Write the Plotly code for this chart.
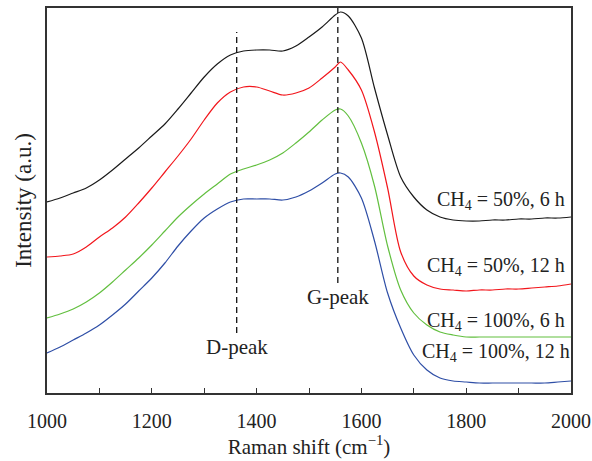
import plotly.graph_objects as go

# Raman shift (cm^-1)
shift = [1000, 1025, 1050, 1075, 1100, 1125, 1150, 1175, 1200, 1225, 1250, 1275,
         1300, 1325, 1350, 1375, 1400, 1425, 1450, 1475, 1500, 1525, 1550, 1560,
         1575, 1600, 1625, 1650, 1675, 1700, 1725, 1750, 1775, 1800, 1825, 1850,
         1875, 1900, 1925, 1950, 1975, 2000]

# Intensities (a.u., offset-stacked as in the figure)
ch4_50_6h = [191, 195, 200, 205, 213, 223, 234, 245, 257, 269, 284, 300,
             316, 329, 338, 342, 343, 343, 342, 347, 356, 366, 378, 381,
             377, 355, 305, 258, 216, 196, 183, 176, 173, 172, 172, 173,
             173, 174, 174, 175, 175, 176]
ch4_50_12h = [136, 137, 139, 146, 156, 165, 176, 190, 205, 221, 237, 254,
              273, 290, 301, 306, 306, 302, 298, 300, 305, 315, 326, 331,
              323, 303, 261, 205, 141, 117, 108, 104, 103, 102, 103, 103,
              104, 104, 105, 106, 107, 109]
ch4_100_6h = [75, 79, 84, 91, 100, 111, 123, 135, 148, 162, 176, 188,
              199, 209, 219, 224, 228, 233, 240, 250, 261, 273, 283, 284,
              277, 250, 207, 147, 103, 80, 68, 61, 58, 56, 56, 56,
              56, 56, 56, 56, 56, 56]
ch4_100_12h = [40, 46, 53, 60, 68, 78, 89, 102, 115, 130, 147, 162,
               175, 184, 191, 194, 194, 194, 193, 196, 202, 210, 219, 220,
               216, 195, 152, 100, 65, 38, 23, 15, 12, 11, 10, 10,
               10, 10, 10, 10, 11, 12]

series_names = ["CH<sub>4</sub> = 50%, 6 h", "CH<sub>4</sub> = 50%, 12 h",
                "CH<sub>4</sub> = 100%, 6 h", "CH<sub>4</sub> = 100%, 12 h"]
label_y = [193, 127, 72, 41]
label_shift = [-4, -4, -4, 1]
colors = ["#1a1a1a", "#f2161c", "#62bf3f", "#2e4ea6"]

d_peak = 1362
g_peak = 1555
d_line = [60, 361]
g_line = [110, 385]
tick_vals = [1000, 1200, 1400, 1600, 1800, 2000]

font_family = "Liberation Serif"
txt = "#222"

fig = go.Figure()
for ys, name, c in zip([ch4_50_6h, ch4_50_12h, ch4_100_6h, ch4_100_12h], series_names, colors):
    fig.add_trace(go.Scatter(x=shift, y=ys, mode="lines", name=name,
                             line=dict(color=c, width=1.2, shape="spline", smoothing=0.8),
                             showlegend=False))

# dashed peak markers
fig.add_trace(go.Scatter(x=[d_peak, d_peak], y=d_line, mode="lines",
                         line=dict(color="#111", width=1.3, dash="6px,4px"), showlegend=False))
fig.add_trace(go.Scatter(x=[g_peak, g_peak], y=g_line, mode="lines",
                         line=dict(color="#111", width=1.3, dash="6px,4px"), showlegend=False))

for name, yv, xs in zip(series_names, label_y, label_shift):
    fig.add_annotation(x=2000, y=yv, xref="x", yref="y", text=name, showarrow=False,
                       xanchor="right", yanchor="middle", xshift=xs,
                       font=dict(family=font_family, size=20, color=txt))

fig.add_annotation(x=d_peak, y=d_line[0], text="D-peak", showarrow=False,
                   yanchor="top", xanchor="center", yshift=0,
                   font=dict(family=font_family, size=21, color=txt))
fig.add_annotation(x=g_peak, y=g_line[0], text="G-peak", showarrow=False,
                   yanchor="top", xanchor="center", yshift=0,
                   font=dict(family=font_family, size=21, color=txt))

axis_color = "#333"
fig.update_layout(
    width=592, height=461,
    margin=dict(l=47, r=21, t=8, b=68),
    paper_bgcolor="white", plot_bgcolor="white",
    font=dict(family=font_family, size=20, color=txt),
    xaxis=dict(range=[1000, 2000], tickvals=tick_vals, ticks="inside", ticklen=5,
               tickwidth=1.2, tickcolor=axis_color, ticklabelstandoff=9,
               automargin=False,
               minor=dict(dtick=100, ticks="inside", ticklen=5, tickwidth=1.2, tickcolor=axis_color),
               showline=True, linecolor=axis_color, linewidth=1.5, mirror=True,
               showgrid=False, zeroline=False,
               tickfont=dict(family=font_family, size=20, color=txt),
               title=dict(text="Raman shift (cm<sup>−1</sup>)", standoff=6,
                          font=dict(family=font_family, size=21, color=txt))),
    yaxis=dict(range=[0, 385], showticklabels=False, ticks="",
               automargin=False,
               showline=True, linecolor=axis_color, linewidth=1.5, mirror=True,
               showgrid=False, zeroline=False,
               title=dict(text="Intensity (a.u.)", standoff=7,
                          font=dict(family=font_family, size=23, color=txt))),
)

fig.write_html("out.html")
